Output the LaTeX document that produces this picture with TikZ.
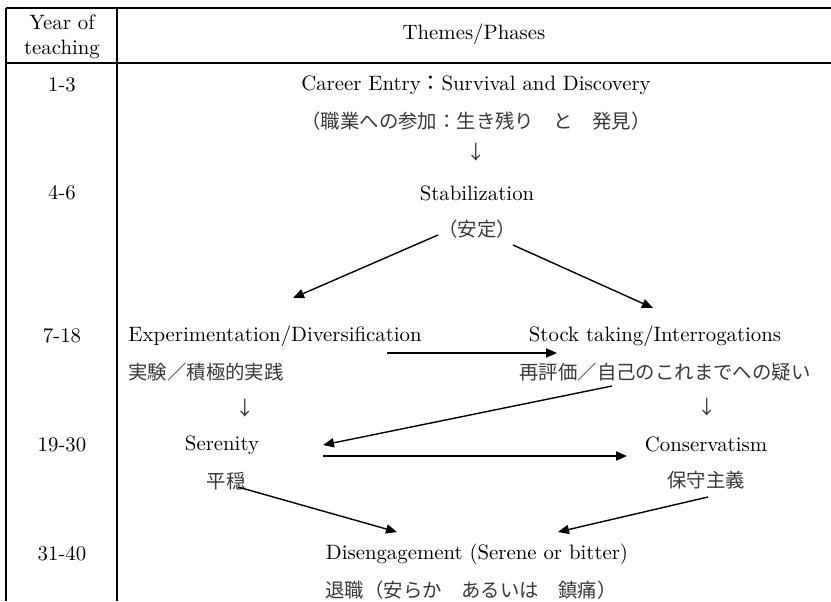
\documentclass[tikz,border=0pt]{standalone}
\usepackage{fontspec}
\usetikzlibrary{arrows.meta}
\newfontfamily\jpfont{Noto Sans CJK JP}

\tikzset{
  en/.style={inner sep=0pt,font=\fontsize{10.4}{12.5}\selectfont},
  jp/.style={inner sep=0pt,text=black!78,font=\fontsize{9.7}{12}\selectfont\jpfont},
  rule/.style={line width=0.75pt},
  arr/.style={-{Triangle[length=5.5pt,width=4.6pt]},line width=0.7pt},
}

\begin{document}
\begin{tikzpicture}[x=0.5pt,y=-0.5pt,node distance=18pt]
  \useasboundingbox (0,0) rectangle (831,601);

  % table frame
  \draw[rule] (6,8) -- (831,8);
  \draw[rule] (6,63) -- (831,63);
  \draw[rule] (6,8) -- (6,601);
  \draw[rule] (117,8) -- (117,601);

  % header
  \node[en,align=center] (y0) at (62,37) {Year of\\teaching};
  \node[en] (h0) at (474,34) {Themes/Phases};

  % years
  \node[en] (y1) at (62,85) {1-3};
  \node[en] (y2) at (62,193) {4-6};
  \node[en] (y3) at (62,336) {7-18};
  \node[en] (y4) at (62,445) {19-30};
  \node[en] (y5) at (62,554) {31-40};

  % phases
  \node[en] (1) at (476,85) {Career Entry{\jpfont ：}Survival and Discovery};
  \node[jp,below of=1] (1j) {（職業への参加：生き残り　と　発見）};
  \node[jp] (1a) at (476,152) {↓};
  \node[en] (2) at (477,193) {Stabilization};
  \node[jp,below of=2] (2j) {（安定）};
  \node[en,anchor=west] (3) at (128,336) {Experimentation/Diversification};
  \node[jp,anchor=west] (3j) at (128,372) {実験／積極的実践};
  \node[en] (4) at (655,336) {Stock taking/Interrogations};
  \node[jp,below of=4,xshift=5pt] (4j) {再評価／自己のこれまでへの疑い};
  \node[jp] (3a) at (245,408) {↓};
  \node[jp] (4a) at (707,407) {↓};
  \node[en] (5) at (222,445) {Serenity};
  \node[jp,below of=5,xshift=2pt] (5j) {平穏};
  \node[en] (6) at (706,444) {Conservatism};
  \node[jp,below of=6] (6j) {保守主義};
  \node[en] (7) at (477,554) {Disengagement (Serene or bitter)};
  \node[jp,below of=7,xshift=-3pt] (7j) {退職（安らか　あるいは　鎮痛）};

  % arrow ends
  \coordinate (2l) at (438,235);
  \coordinate (2r) at (513,245);
  \coordinate (3t) at (293,298);
  \coordinate (4t) at (653,308);
  \coordinate (3r) at (387,353);
  \coordinate (4l) at (557,353);
  \coordinate (4b) at (612,386);
  \coordinate (5r) at (323,445);
  \coordinate (5s) at (323,456);
  \coordinate (6l) at (627,456);
  \coordinate (5b) at (238,487);
  \coordinate (7l) at (397,532);
  \coordinate (6b) at (708,497);
  \coordinate (7r) at (558,532);

  \draw[arr] (2l) -- (3t);
  \draw[arr] (2r) -- (4t);
  \draw[arr] (3r) -- (4l);
  \draw[arr] (4b) -- (5r);
  \draw[arr] (5s) -- (6l);
  \draw[arr] (5b) -- (7l);
  \draw[arr] (6b) -- (7r);
\end{tikzpicture}
\end{document}
